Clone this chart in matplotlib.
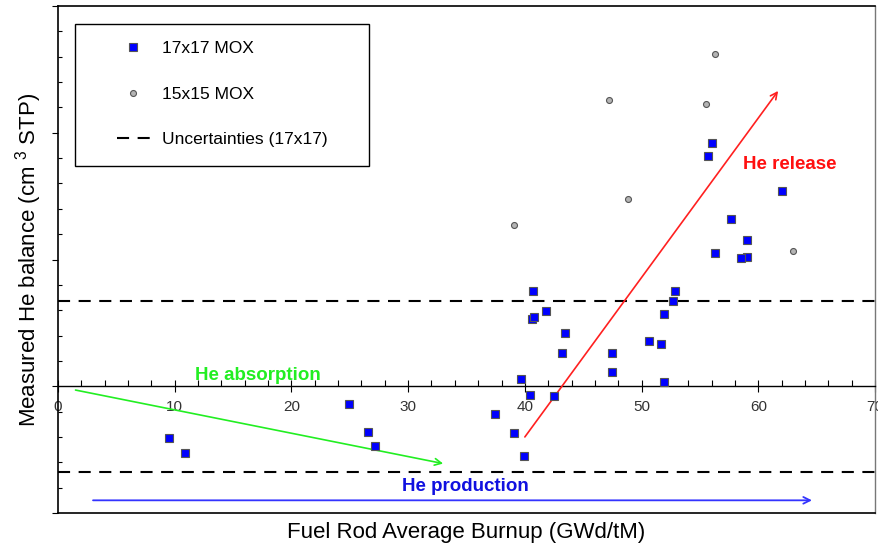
import matplotlib
matplotlib.use("Agg")
import matplotlib.pyplot as plt
import matplotlib.ticker as tick
from matplotlib.patches import Rectangle

plt.rcParams["font.family"] = ["Liberation Sans", "DejaVu Sans"]
plt.rcParams["mathtext.fontset"] = "custom"
plt.rcParams["mathtext.rm"] = "Liberation Sans"

# ---- data ----
mox17_burnup = [9.5, 10.9, 24.9, 26.6, 27.2, 37.4, 39.1, 39.9, 39.7, 40.4,
                40.7, 40.6, 40.8, 41.8, 43.4, 43.2, 42.5, 47.5, 47.5, 50.6,
                51.7, 51.9, 51.9, 52.7, 52.9, 56.0, 55.7, 62.0, 57.7, 59.0,
                56.3, 59.0, 58.5]
mox17_balance = [-0.41, -0.53, -0.14, -0.36, -0.47, -0.22, -0.37, -0.55, 0.06, -0.07,
                 0.75, 0.53, 0.55, 0.59, 0.42, 0.26, -0.08, 0.26, 0.11, 0.36,
                 0.33, 0.57, 0.03, 0.67, 0.75, 1.92, 1.82, 1.54, 1.32, 1.15,
                 1.05, 1.02, 1.01]

mox15_burnup = [39.1, 47.2, 48.8, 55.5, 56.3, 63.0]
mox15_balance = [1.27, 2.26, 1.48, 2.23, 2.62, 1.07]

uncert_hi = 0.67
uncert_lo = -0.68

# arrows: (start, end)
arrow_absorption = ((1.5, -0.03), (33.0, -0.61))
arrow_release = ((40.0, -0.40), (61.7, 2.33))
arrow_production = ((3.0, -0.90), (64.6, -0.90))

xticks = [0, 10, 20, 30, 40, 50, 60, 70]


def main() -> None:
    fig = plt.figure(figsize=(8.79, 5.45), dpi=100)
    ax = fig.add_axes([58 / 879, 1 - 513 / 545, 817 / 879, 507 / 545])

    ax.set_xlim(0, 70)
    ax.set_ylim(-1, 3)

    # frame: x axis crosses at zero, bottom border drawn separately
    ax.spines["bottom"].set_position(("data", 0))
    ax.spines["bottom"].set_linewidth(1.0)
    ax.spines["left"].set_linewidth(1.2)
    ax.spines["top"].set_linewidth(1.2)
    ax.spines["right"].set_color("#777777")
    ax.spines["right"].set_linewidth(1.0)
    ax.axhline(-1, color="black", lw=1.2, clip_on=False, zorder=3)

    ax.set_xticks(xticks)
    ax.xaxis.set_minor_locator(tick.MultipleLocator(2))
    ax.yaxis.set_major_locator(tick.MultipleLocator(1))
    ax.yaxis.set_minor_locator(tick.MultipleLocator(0.2))
    ax.set_yticklabels([])
    ax.tick_params(axis="x", which="major", direction="inout", length=8, width=0.8,
                   labelsize=11, labelcolor="#333333", pad=6)
    ax.tick_params(axis="x", which="minor", direction="in", length=4, width=0.8)
    ax.tick_params(axis="y", which="major", direction="out", length=4, width=0.8)
    ax.tick_params(axis="y", which="minor", direction="in", length=3, width=0.8)

    # uncertainty band
    ax.axhline(uncert_hi, color="black", lw=1.5, dashes=(5.8, 4.1))
    ax.axhline(uncert_lo, color="black", lw=1.5, dashes=(5.8, 4.1))

    ax.plot(mox17_burnup, mox17_balance, ls="none", marker="s", ms=5.2,
            mfc="#0000ff", mec="#555555", mew=0.8, zorder=5)
    ax.plot(mox15_burnup, mox15_balance, ls="none", marker="o", ms=4.3,
            mfc="#b4b4b4", mec="#555555", mew=0.8, zorder=5)

    # trend arrows
    for (p0, p1), col, lw in [
        (arrow_absorption, "#22ee22", 1.2),
        (arrow_release, "#ff2020", 1.2),
        (arrow_production, "#3333ff", 1.3),
    ]:
        ax.annotate("", xy=p1, xytext=p0,
                    arrowprops=dict(arrowstyle="->", color=col, lw=lw,
                                    shrinkA=0, shrinkB=0, mutation_scale=12))

    ax.text(11.7, 0.085, "He absorption", color="#22ee22", fontsize=13.5,
            fontweight="bold", va="center", ha="left")
    ax.text(58.7, 1.75, "He release", color="#ff1010", fontsize=13.5,
            fontweight="bold", va="center", ha="left")
    ax.text(29.5, -0.79, "He production", color="#1010e0", fontsize=13.5,
            fontweight="bold", va="center", ha="left")

    ax.set_xlabel("Fuel Rod Average Burnup (GWd/tM)", fontsize=16, labelpad=0)
    ax.xaxis.set_label_coords(0.5, -0.0178)
    ax.set_ylabel("Measured He balance (cm $^{3}$ STP)", fontsize=16)
    ax.yaxis.set_label_coords(-0.0166, 0.5)

    # legend box
    ax.add_patch(Rectangle((0.0208, 0.685), 0.36, 0.2795, transform=ax.transAxes,
                           fill=False, ec="black", lw=1.0, zorder=6))
    handles = [
        plt.Line2D([], [], ls="none", marker="s", ms=5.2, mfc="#0000ff",
                   mec="#555555", mew=0.8),
        plt.Line2D([], [], ls="none", marker="o", ms=4.3, mfc="#b4b4b4",
                   mec="#555555", mew=0.8),
        plt.Line2D([], [], color="black", lw=1.5, dashes=(5.8, 4.1)),
    ]
    ax.legend(handles, ["17x17 MOX", "15x15 MOX", "Uncertainties (17x17)"],
              loc="center left", bbox_to_anchor=(0.0722, 0.826), frameon=False,
              fontsize=12.5, handlelength=1.9, handletextpad=0.7,
              labelspacing=1.75, borderpad=0, borderaxespad=0)

    fig.savefig("out.png", dpi=100)


if __name__ == "__main__":
    main()
